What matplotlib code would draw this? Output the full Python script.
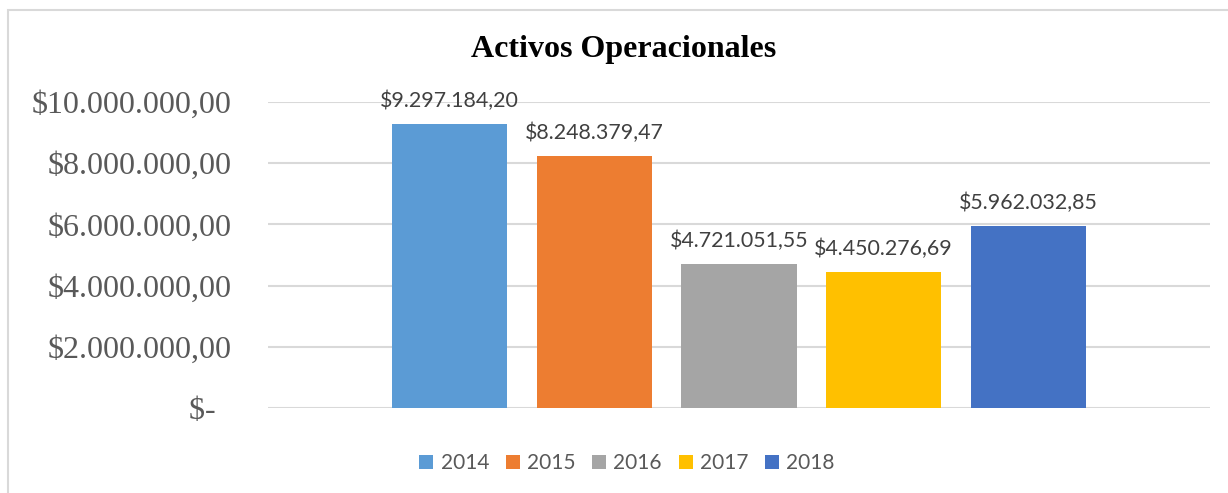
import matplotlib.pyplot as plt
import matplotlib.patches as patches
import numpy as np

years = ['2014', '2015', '2016', '2017', '2018']
activos = [9297184.20, 8248379.47, 4721051.55, 4450276.69, 5962032.85]
colors = ['#5B9BD5', '#ED7D31', '#A5A5A5', '#FFC000', '#4472C4']
y_ticks = [0, 2000000, 4000000, 6000000, 8000000, 10000000]


def money(v):
  s = '{:,.2f}'.format(v)
  s = s.replace(',', '_').replace('.', ',').replace('_', '.')
  return '$' + s


def tick_label(v):
  if v == 0:
    return '$-  '
  return money(v)


fig = plt.figure(figsize=(12.28, 4.93), dpi=100)
ax = fig.add_axes([268/1228, 1 - 408/493, (1210 - 268)/1228, (408 - 102)/493])

x = np.arange(len(years))
for i in range(len(years)):
  b = ax.bar(x[i], activos[i], width=0.795, color=colors[i], label=years[i], zorder=3)
  ax.bar_label(b, labels=[money(activos[i])], padding=9, fontsize=15.4,
               family='Lato', color='#404040')

ax.set_xlim(-1.255, len(years) - 1 + 1.255)
ax.set_ylim(0, 10000000)
ax.set_yticks(y_ticks)
ax.set_yticklabels([tick_label(v) for v in y_ticks], family='Liberation Serif',
                   fontsize=23, color='#595959')
ax.set_xticks([])
ax.tick_params(axis='y', length=0, pad=26)
ax.grid(axis='y', color='#D9D9D9', linewidth=1.5, zorder=0)
for sp in ax.spines.values():
  sp.set_visible(False)

fig.text(624/1228, 1 - 50/493, 'Activos Operacionales', ha='center', va='center',
         family='Liberation Serif', fontweight='bold', fontsize=23, color='black')

leg = fig.legend(loc='center', bbox_to_anchor=(627/1228, 1 - 463/493), ncol=5,
                 frameon=False, prop={'family': 'Lato', 'size': 15},
                 handlelength=0.67, handleheight=0.67, handletextpad=0.35,
                 columnspacing=0.8, labelcolor='#595959')

border = patches.Rectangle((8/1228, -0.1), 1.2, 1 - 10/493 + 0.1, transform=fig.transFigure,
                           fill=False, edgecolor='#D9D9D9', linewidth=1.5)
fig.patches.append(border)

fig.savefig('out.png', dpi=100)
